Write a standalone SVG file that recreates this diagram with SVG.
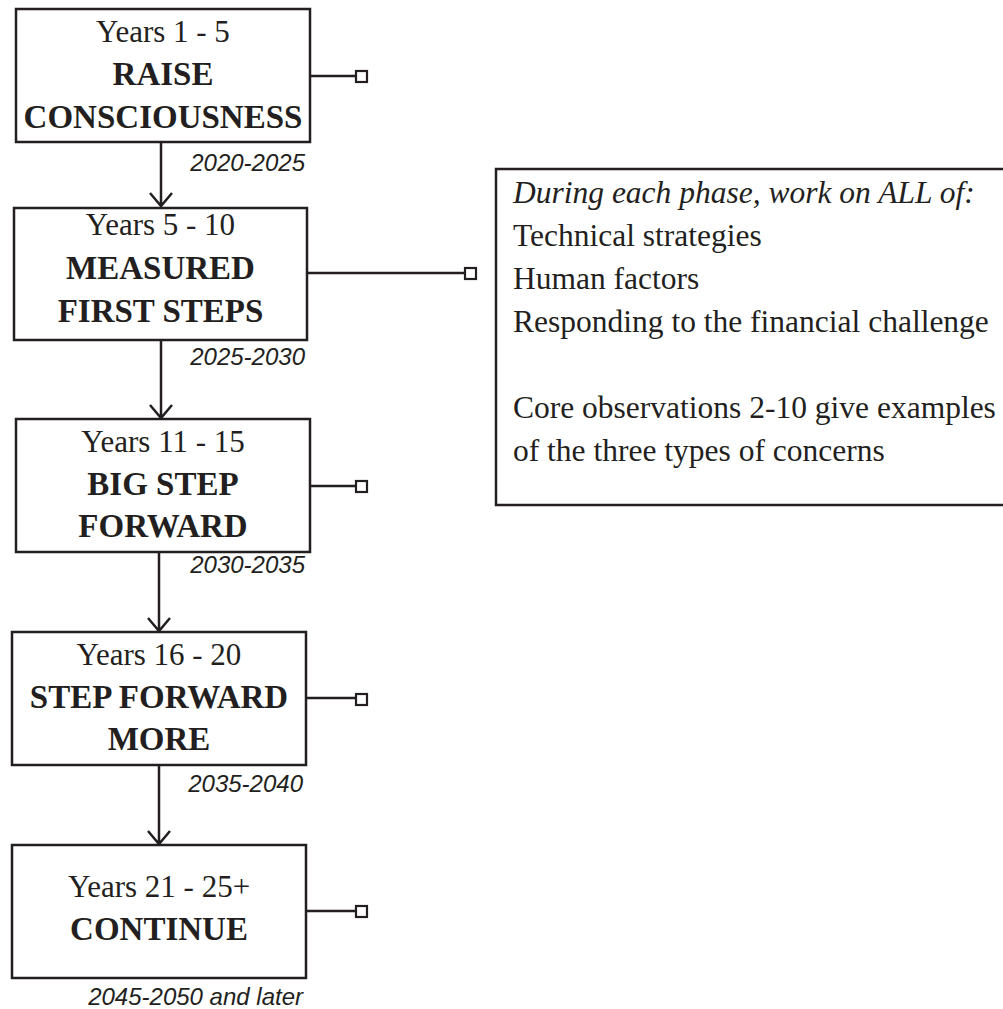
<svg xmlns="http://www.w3.org/2000/svg" width="1003" height="1009" viewBox="0 0 1003 1009">
<style>
.box{fill:#fff;stroke:#231f20;stroke-width:2.5}
.t{font-family:"Liberation Serif","Times New Roman",serif;font-size:31px;fill:#231f20;text-anchor:middle}
.b{font-weight:bold;font-size:33px}
.d{font-family:"Liberation Sans",Arial,sans-serif;font-style:italic;font-size:24px;fill:#231f20;text-anchor:end}
.r{font-family:"Liberation Serif","Times New Roman",serif;font-size:31.5px;fill:#231f20}
.ln{stroke:#231f20;stroke-width:2.5;fill:none}
.sq{fill:#fff;stroke:#231f20;stroke-width:2.2}
</style>
<rect width="1003" height="1009" fill="#fff"/>
<g id="connectors">
<path class="ln" d="M161 142V206M150 193L161 206L172 193"/>
<path class="ln" d="M161 340V418M150 405L161 418L172 405"/>
<path class="ln" d="M159 552V631M148 618L159 631L170 618"/>
<path class="ln" d="M159 765V844M148 831L159 844L170 831"/>
<path class="ln" d="M310 76H356"/>
<rect class="sq" x="356" y="71" width="11" height="11"/>
<path class="ln" d="M307 273H465"/>
<rect class="sq" x="465" y="268" width="11" height="11"/>
<path class="ln" d="M310 486H356"/>
<rect class="sq" x="356" y="481" width="11" height="11"/>
<path class="ln" d="M306 698H356"/>
<rect class="sq" x="356" y="694" width="11" height="11"/>
<path class="ln" d="M306 911H356"/>
<rect class="sq" x="356" y="906" width="11" height="11"/>
</g>
<g id="phase1">
<rect class="box" x="16" y="9" width="294" height="133"/>
<text class="t" x="163" y="42">Years 1 - 5</text>
<text class="t b" x="163" y="85">RAISE</text>
<text class="t b" x="163" y="128">CONSCIOUSNESS</text>
<text class="d" x="305" y="171">2020-2025</text>
</g>
<g id="phase2">
<rect class="box" x="14" y="208" width="293" height="132"/>
<text class="t" x="160.5" y="235">Years 5 - 10</text>
<text class="t b" x="160.5" y="279">MEASURED</text>
<text class="t b" x="160.5" y="322">FIRST STEPS</text>
<text class="d" x="305" y="365">2025-2030</text>
</g>
<g id="phase3">
<rect class="box" x="16" y="419" width="294" height="133"/>
<text class="t" x="163" y="452">Years 11 - 15</text>
<text class="t b" x="163" y="495">BIG STEP</text>
<text class="t b" x="163" y="537">FORWARD</text>
<text class="d" x="305" y="573">2030-2035</text>
</g>
<g id="phase4">
<rect class="box" x="12" y="632" width="294" height="133"/>
<text class="t" x="159" y="665">Years 16 - 20</text>
<text class="t b" x="159" y="708">STEP FORWARD</text>
<text class="t b" x="159" y="750">MORE</text>
<text class="d" x="303" y="792">2035-2040</text>
</g>
<g id="phase5">
<rect class="box" x="12" y="845" width="294" height="133"/>
<text class="t" x="159" y="897">Years 21 - 25+</text>
<text class="t b" x="159" y="940">CONTINUE</text>
<text class="d" x="303" y="1005">2045-2050 and later</text>
</g>
<g id="note">
<rect class="box" x="496" y="169" width="520" height="336"/>
<text class="r" x="513" y="203" font-style="italic">During each phase, work on ALL of:</text>
<text class="r" x="513" y="246">Technical strategies</text>
<text class="r" x="513" y="289">Human factors</text>
<text class="r" x="513" y="332">Responding to the financial challenge</text>
<text class="r" x="513" y="418">Core observations 2-10 give examples</text>
<text class="r" x="513" y="461">of the three types of concerns</text>
</g>
</svg>
